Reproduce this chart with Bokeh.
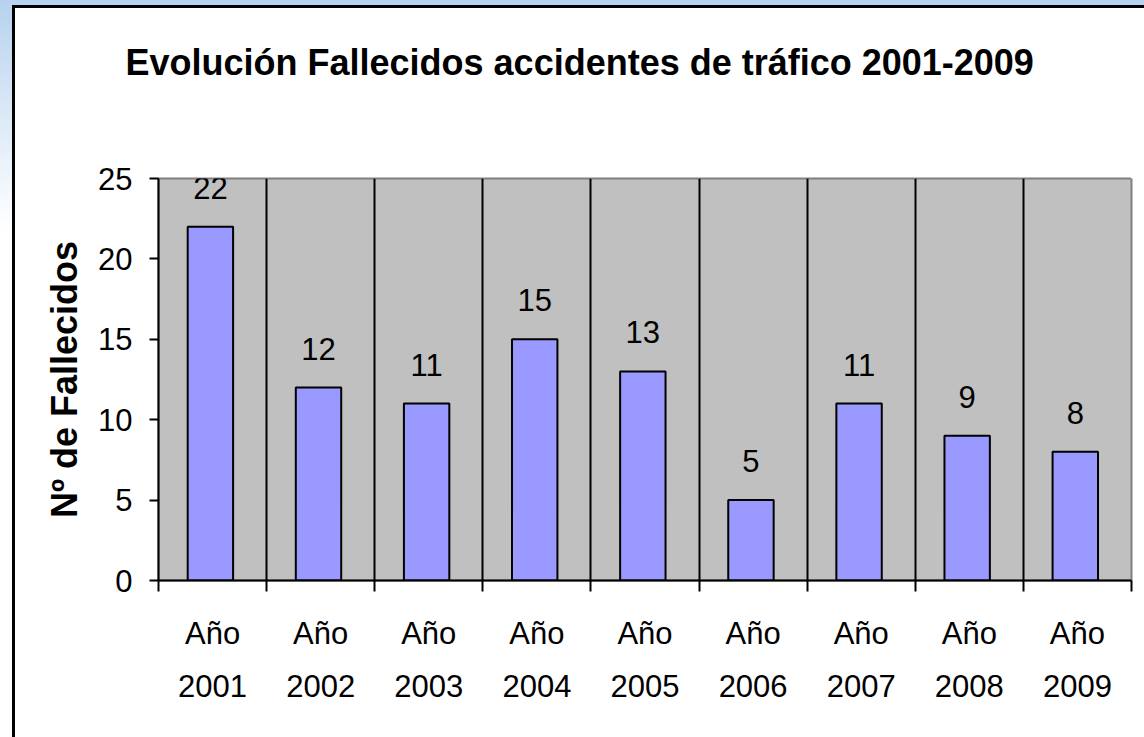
from bokeh.plotting import figure
from bokeh.models import (Range1d, FixedTicker, LinearAxis, LabelSet,
                          ColumnDataSource, Grid, Title)
from bokeh.core.properties import value
from bokeh.embed import file_html
from bokeh.resources import INLINE

# ---- data ----
years = ["2001", "2002", "2003", "2004", "2005", "2006", "2007", "2008", "2009"]
prefix = ["Año"] * len(years)
fallecidos = [22, 12, 11, 15, 13, 5, 11, 9, 8]
y_ticks = [0, 5, 10, 15, 20, 25]

title_text = "Evolución Fallecidos accidentes de tráfico 2001-2009"
y_title = "Nº de Fallecidos"

SANS = "Liberation Sans"
FS = "31px"
W, H = 1144, 737

n = len(years)
idx = list(range(n))
bar_x = [i - 0.02 for i in idx]
boundaries = [i - 0.5 for i in range(n + 1)]
inner_bounds = boundaries[1:-1]

p = figure(width=W, height=H, output_backend="svg", toolbar_location=None,
           x_range=Range1d(-0.5, n - 0.5), y_range=Range1d(0, 25),
           min_border_left=158, min_border_right=13, min_border_top=178,
           min_border_bottom=157, x_axis_location=None)

p.background_fill_color = "#C0C0C0"
p.border_fill_color = None
p.outline_line_color = "#808080"
p.outline_line_width = 2

# slide background + chart box frame (page decoration behind the canvas)
p.styles = {
    "background": (
        "linear-gradient(#000, #000) 12px 5px / 3px 100% no-repeat, "
        "linear-gradient(#000, #000) 12px 5px / 100% 3px no-repeat, "
        "linear-gradient(#fff, #fff) 15px 8px / 100% 100% no-repeat, "
        "linear-gradient(to bottom, #B6D2EE 0px, #D4E4F5 90px, #FFFFFF 230px)"
    )
}

# invisible spacer between title and plot area (a white tick on white)
spacer = LinearAxis(ticker=FixedTicker(ticks=[boundaries[-1]]))
spacer.axis_line_color = None
spacer.major_tick_line_color = "white"
spacer.minor_tick_line_color = None
spacer.major_tick_in = 0
spacer.major_tick_out = 91
spacer.minor_tick_out = 0
spacer.major_label_standoff = 0
spacer.major_label_text_color = None
p.add_layout(spacer, "above")

# title, stacked above the spacer
p.add_layout(Title(text=title_text, text_font=SANS, text_font_size="36px",
                   text_font_style="bold", text_color="black",
                   align="left", offset=-33, standoff=10), "above")

# y axis
ya = p.yaxis[0]
ya.ticker = FixedTicker(ticks=y_ticks)
ya.minor_tick_line_color = None
ya.major_tick_in = 0
ya.major_tick_out = 9
ya.major_tick_line_width = 2
ya.major_tick_line_color = "black"
ya.axis_line_color = "black"
ya.axis_line_width = 2
ya.major_label_text_font = SANS
ya.major_label_text_font_size = FS
ya.major_label_text_color = "black"
ya.major_label_standoff = 17
ya.axis_label = y_title
ya.axis_label_text_font = SANS
ya.axis_label_text_font_size = "36px"
ya.axis_label_text_font_style = "bold"
ya.axis_label_text_color = "black"
ya.axis_label_standoff = 10

# x axis: boundary ticks (minor) + "Año" labels
xa_top = LinearAxis(ticker=FixedTicker(ticks=idx, minor_ticks=boundaries))
xa_top.major_label_overrides = {i: prefix[i] for i in idx}
xa_top.axis_line_color = "black"
xa_top.axis_line_width = 2
xa_top.major_tick_line_color = None
xa_top.major_tick_in = 0
xa_top.major_tick_out = 11
xa_top.minor_tick_line_color = "black"
xa_top.minor_tick_line_width = 2
xa_top.minor_tick_in = 0
xa_top.minor_tick_out = 11
xa_top.major_label_text_font = SANS
xa_top.major_label_text_font_size = FS
xa_top.major_label_text_color = "black"
xa_top.major_label_standoff = 24
p.add_layout(xa_top, "below")

# x axis: year line
xa_year = LinearAxis(ticker=FixedTicker(ticks=idx))
xa_year.major_label_overrides = {i: years[i] for i in idx}
xa_year.axis_line_color = None
xa_year.major_tick_line_color = None
xa_year.minor_tick_line_color = None
xa_year.major_tick_in = 0
xa_year.major_tick_out = 0
xa_year.major_label_text_font = SANS
xa_year.major_label_text_font_size = FS
xa_year.major_label_text_color = "black"
xa_year.major_label_standoff = 21
p.add_layout(xa_year, "below")

# grids
p.ygrid.grid_line_color = None
p.xgrid.grid_line_color = None
vgrid = Grid(dimension=0, ticker=FixedTicker(ticks=inner_bounds),
             grid_line_color="black", grid_line_width=2)
p.add_layout(vgrid)

# bars
src = ColumnDataSource(dict(x=bar_x, top=fallecidos,
                            label=[str(v) for v in fallecidos]))
p.vbar(x="x", top="top", width=0.42, bottom=0, source=src,
       fill_color="#9999FF", line_color="black", line_width=2)

labels = LabelSet(x="x", y="top", text="label", source=src,
                  text_align="center", text_baseline="alphabetic",
                  y_offset=28, text_font=value(SANS), text_font_size=value(FS),
                  text_color="black")
p.add_layout(labels)

open("out.html", "w").write(file_html(p, INLINE))
